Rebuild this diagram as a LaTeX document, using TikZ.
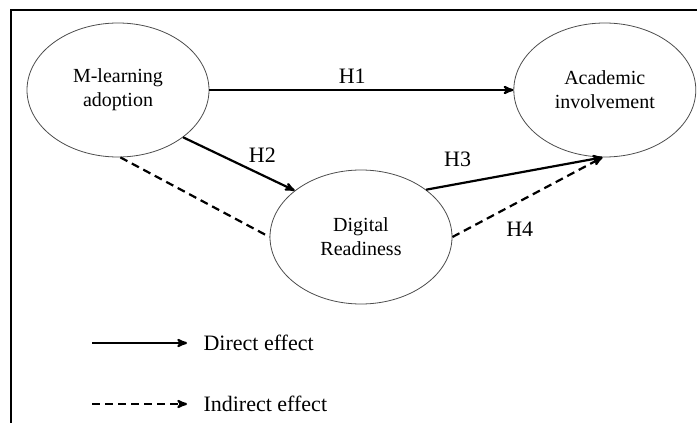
\documentclass[tikz,border=0pt]{standalone}
\usepackage{fontspec}
\setmainfont{Liberation Serif}
\usepackage{tikz}
\usetikzlibrary{shapes,arrows,positioning}

\begin{document}
\begin{tikzpicture}[x=1pt,y=-1pt,>=stealth',auto,
	var node/.style={draw=black!70, line width=.8pt, ellipse, inner sep=0pt, minimum width=182pt, minimum height=134pt, align=center, font=\fontsize{20}{24}\selectfont},
	hyp/.style={font=\fontsize{22}{26}\selectfont},
	effect/.style={line width=2.2pt},
	ind/.style={line width=2.2pt, dash pattern=on 8pt off 5pt}]
			\useasboundingbox (0,0) rectangle (697,423);
			\draw[line width=2pt] (11,423) -- (11,10) -- (697,10);
			
			\node[var node] (ml) at (118,90) {M-learning\\adoption};
			\node[var node] (ai) [right=304pt of ml] {Academic\\involvement};
			\node[var node] (dr) at (361,237) {Digital\\Readiness};
			
			\path[effect]
			(ml.east) edge [->] node [hyp, pos=.47, yshift=2pt] {H1} (ai.west)
			(ml.-36) edge [->] node [hyp, pos=.55] {H2} (dr.145)
			(dr.36) edge [->] node [hyp, pos=.28, yshift=9pt] {H3} (ai.-92);
			\path[ind]
			(ml.-88) edge (dr.west)
			(dr.east) edge [->] node [hyp, swap, pos=.33, yshift=-7pt] {H4} (ai.-92);
			
			% legend
			\coordinate (d0) at (92,343);
			\coordinate (d1) at (187,343);
			\coordinate (i0) at (92,404);
			\coordinate (i1) at (187,404);
			\draw[effect,->] (d0) -- (d1);
			\draw[ind,->] (i0) -- (i1);
			\node[hyp, anchor=west] (dtxt) at (200,343) {Direct effect};
			\node[hyp, anchor=west] (itxt) at (200,404) {Indirect effect};
\end{tikzpicture}
\end{document}
